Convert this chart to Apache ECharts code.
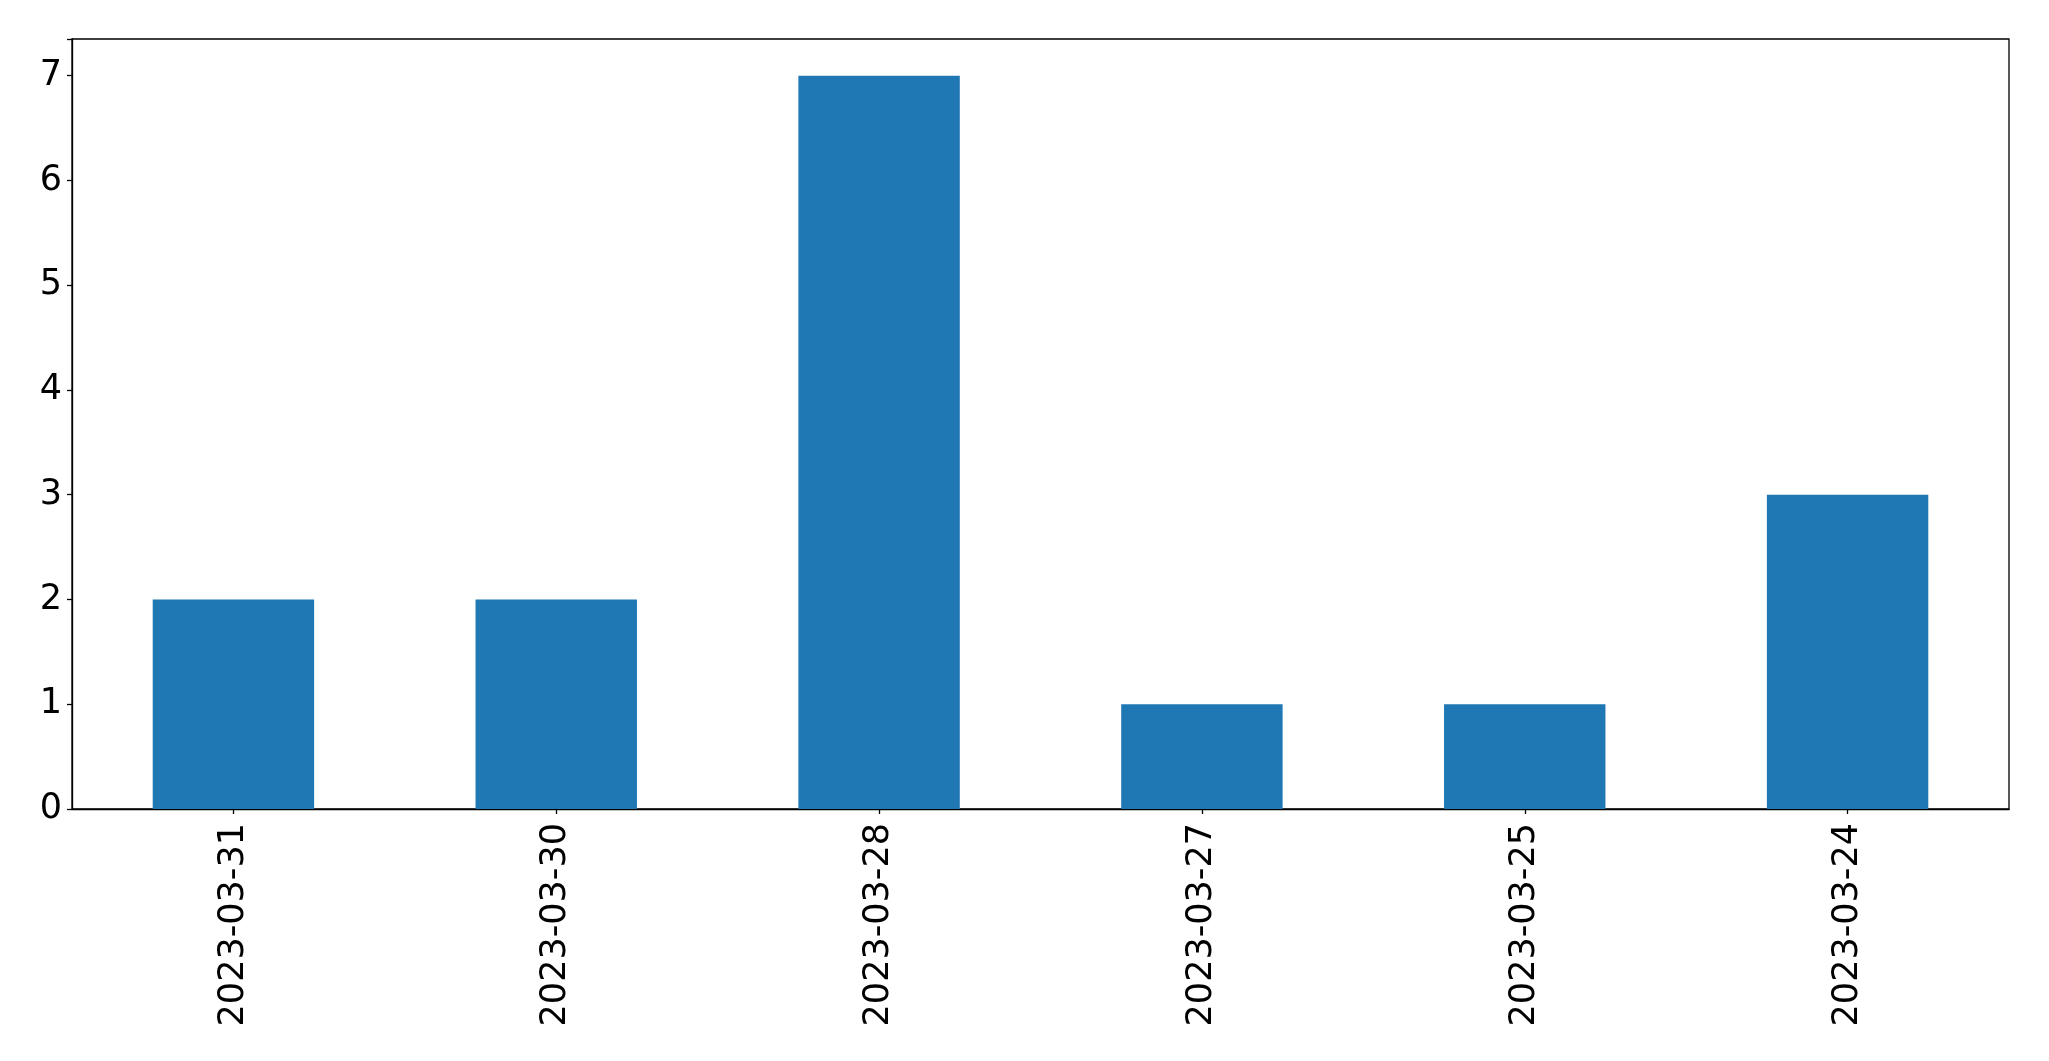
<!DOCTYPE html>
<html>
<head>
<meta charset="utf-8">
<script src="https://cdn.jsdelivr.net/npm/echarts@6/dist/echarts.min.js"></script>
<style>
html,body{margin:0;padding:0;background:#fff;}
#chart{width:2049px;height:1061px;}
</style>
</head>
<body>
<div id="chart"></div>
<script>
const categories = ["2023-03-31", "2023-03-30", "2023-03-28", "2023-03-27", "2023-03-25", "2023-03-24"];
const values = [2, 2, 7, 1, 1, 3];
const yTicks = [0, 1, 2, 3, 4, 5, 6, 7];

const chart = echarts.init(document.getElementById('chart'), null, {renderer: 'canvas'});
const font = '"DejaVu Sans", sans-serif';
chart.setOption({
  animation: false,
  backgroundColor: '#ffffff',
  grid: {
    left: 72, right: 40, top: 39, bottom: 252,
    show: true, borderColor: '#000', borderWidth: 1.3, backgroundColor: 'transparent',
    containLabel: false
  },
  xAxis: {
    type: 'category',
    data: categories,
    boundaryGap: true,
    axisLine: {show: true, lineStyle: {color: '#000', width: 1.3}},
    axisTick: {show: true, alignWithLabel: true, length: 5, lineStyle: {color: '#000', width: 1.3}},
    axisLabel: {rotate: 90, margin: 14, color: '#000', fontSize: 35, fontFamily: font, interval: 0},
    splitLine: {show: false}
  },
  yAxis: {
    type: 'value',
    min: 0, max: 7.35, interval: 1,
    axisLine: {show: true, lineStyle: {color: '#000', width: 1.3}},
    axisTick: {show: true, length: 5, lineStyle: {color: '#000', width: 1.3}},
    axisLabel: {
      color: '#000', fontSize: 35, fontFamily: font, margin: 10,
      formatter: function (v) { return yTicks.indexOf(v) >= 0 ? String(v) : ''; }
    },
    splitLine: {show: false}
  },
  series: [{
    type: 'bar',
    data: values,
    barWidth: '50%',
    itemStyle: {color: '#1f77b4'}
  }]
});
</script>
</body>
</html>
